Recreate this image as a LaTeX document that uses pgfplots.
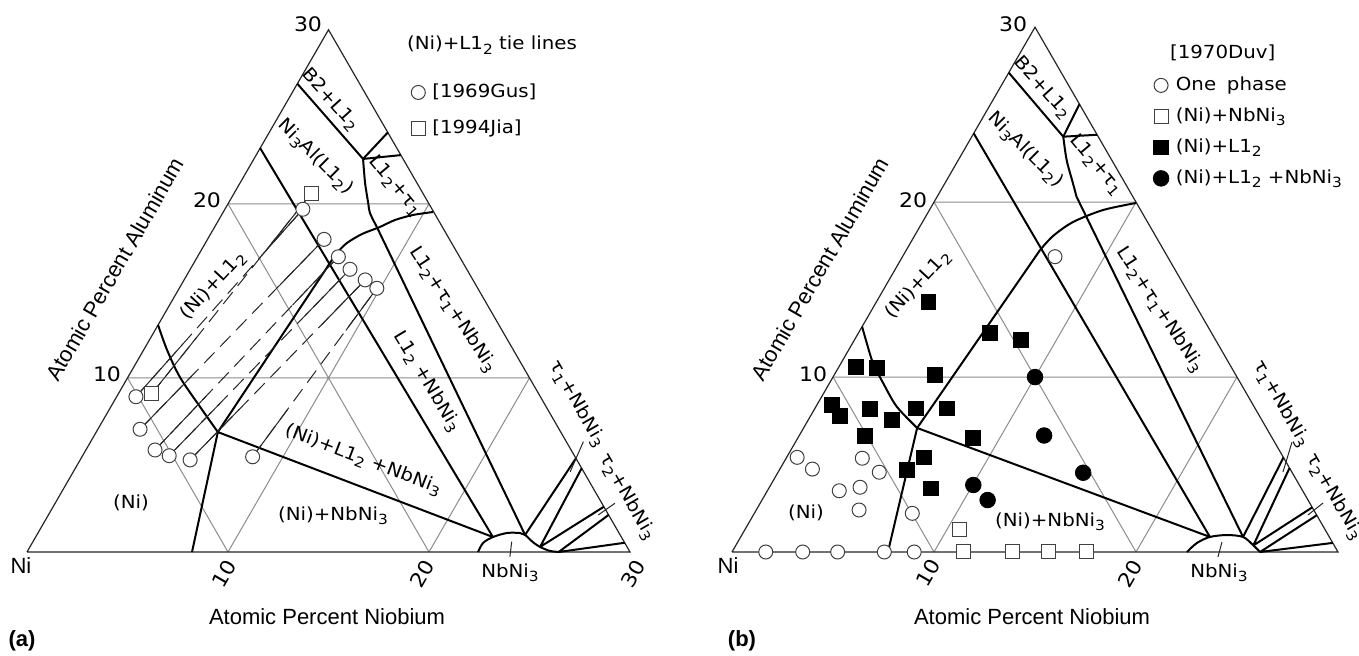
\documentclass[border=0pt]{standalone}
\usepackage{pgfplots}
\pgfplotsset{compat=1.18}
\usepackage{fontspec}
\setmainfont{Liberation Sans}
\newfontfamily\dfont[FakeStretch=1.1]{DejaVu Sans}
\newcommand\sub[1]{\raisebox{-0.45ex}{\fontsize{7}{7}\selectfont #1}}
\newcommand\Lt{L1\sub{2}}
\newcommand\NN{NbNi\sub{3}}
\pgfplotsset{
  tern/.style={hide axis, clip=false, xmin=0, xmax=30, ymin=0, ymax=30, anchor=origin},
  bnd/.style={black, line width=1pt, mark=none, forget plot},
  bnds/.style={bnd, smooth, tension=0.5},
  grd/.style={black!45, line width=0.5pt, mark=none, forget plot, unbounded coords=jump},
  edg/.style={black!85, line width=0.6pt, mark=none, forget plot},
  thn/.style={black!85, line width=0.5pt, mark=none, forget plot, unbounded coords=jump},
  lm/.style={only marks, legend image code/.code={\draw[##1] plot coordinates {(0pt,0pt)};}},
  ocirc/.style={lm, mark=*, mark size=3.5pt, mark options={fill=white, draw=black!75, line width=0.5pt}},
  osq/.style={lm, mark=square*, mark size=3.5pt, mark options={fill=white, draw=black!75, line width=0.5pt}},
  fsq/.style={lm, mark=square*, mark size=3.7pt, mark options={fill=black, draw=black}},
  fcirc/.style={lm, mark=*, mark size=3.9pt, mark options={fill=black, draw=black}},
  leg/.style={legend style={draw=none, fill=none, at={#1}, anchor=north west,
     font=\dfont\fontsize{9}{11}\selectfont, inner sep=0pt, column sep=3.5pt,
     nodes={inner sep=0pt, text height=7pt, text depth=2pt}, cells={anchor=west}},
     legend cell align=left},
}
\begin{document}
\begin{tikzpicture}
\useasboundingbox (0,0) rectangle (679.5pt,-328pt);
% ---------------- (a) ----------------
\begin{axis}[tern, x={(10.05pt,0pt)}, y={(5.025pt,8.7036pt)}, at={(13.5pt,-276pt)},
  leg={(axis cs:5.63,26.94)}, legend style={row sep=9pt}]
\addplot[grd] coordinates {(0,10)(20,10) (nan,nan) (0,20)(10,20) (nan,nan) (10,0)(10,20) (nan,nan) (20,0)(20,10) (nan,nan) (10,0)(0,10) (nan,nan) (20,0)(0,20)};
\addplot[edg] coordinates {(0,0) (30,0) (0,30) (0,0)};
% phase boundaries
\addplot[bnd] coordinates {(0,26.9) (5.43,22.58)};
\addplot[bnd] coordinates {(5.43,22.58) (5.9,24.1)};
\addplot[bnd] coordinates {(5.43,22.58) (7.2,22.8)};
\addplot[bnds] coordinates {(5.43,22.58) (6.22,21.2) (6.95,20.05) (7.32,19.48) (8.07,18.67)};
\addplot[bnd] coordinates {(8.07,18.67) (24.29,0.98)};
\addplot[bnd] coordinates {(0,23.2) (22.75,0.86)};
\addplot[bnds] coordinates {(10.43,19.53) (9.52,19.36) (8.77,19.07) (8.22,18.67) (7.54,18.27) (7.04,17.75) (6.83,17.18) (6.77,16.6)};
\addplot[bnd] coordinates {(6.77,16.6) (6.05,6.89) (8.21,0)};
\addplot[bnds] coordinates {(0,13.04) (1.17,11.6) (2.58,10.05) (4.45,8.33) (6.05,6.89)};
\addplot[bnd] coordinates {(6.05,6.89) (22.75,0.86)};
\addplot[bnds] coordinates {(22.44,0) (22.43,0.52) (22.75,0.86) (23.33,1.09) (23.98,1.09) (24.29,0.98) (24.88,0.57) (25.38,0.29) (25.99,0.06) (26.5,0)};
\addplot[bnd, unbounded coords=jump] coordinates {(24.29,0.98)(24.62,5.38) (nan,nan) (25.38,0.29)(25.19,4.81) (nan,nan) (25.38,0.29)(27.4,2.6) (nan,nan) (26.45,0)(27.87,2.13) (nan,nan) (26.45,0)(29.47,0.53)};
\addplot[thn] coordinates {(24.51,6.34)(24.72,4.61) (nan,nan) (27.85,2.8)(27.36,2.13) (nan,nan) (23.82,0.59)(24.16,-0.27)};
% tie lines
\addplot[thn, dash pattern=on 7.5pt off 4pt] coordinates {(0.96,8.92)(3.88,19.69) (nan,nan) (1.66,9.08)(3.85,20.62) (nan,nan) (2.10,7.05)(5.80,17.96) (nan,nan) (3.44,5.86)(7.01,16.96) (nan,nan) (4.31,5.53)(7.95,16.24) (nan,nan) (5.47,5.29)(9.01,15.63) (nan,nan) (8.49,5.47)(9.83,15.15)};
\addplot[thn] coordinates {(0.96,8.92)(1.78,11.94) (nan,nan) (3.15,17.00)(3.88,19.69) (nan,nan)
 (1.66,9.08)(2.27,12.31) (nan,nan) (3.30,17.74)(3.85,20.62) (nan,nan)
 (2.10,7.05)(3.14,10.10) (nan,nan) (4.88,15.23)(5.80,17.96) (nan,nan)
 (3.44,5.86)(4.44,8.97) (nan,nan) (6.12,14.19)(7.01,16.96) (nan,nan)
 (4.31,5.53)(5.33,8.53) (nan,nan) (7.04,13.56)(7.95,16.24) (nan,nan)
 (5.47,5.29)(6.46,8.19) (nan,nan) (8.13,13.05)(9.01,15.63) (nan,nan)
 (8.49,5.47)(8.87,8.18) (nan,nan) (9.50,12.73)(9.83,15.15)};
\addplot[ocirc] coordinates {(0.96,8.92) (2.10,7.05) (3.44,5.86) (4.31,5.53) (5.47,5.29) (8.49,5.47) (3.88,19.69) (5.80,17.96) (7.01,16.96) (7.95,16.24) (9.01,15.63) (9.83,15.15)};
\addlegendentry{[1969Gus]}
\addplot[osq] coordinates {(1.66,9.08) (3.85,20.62)};
\addlegendentry{[1994Jia]}
\end{axis}
% ---------------- (b) ----------------
\begin{axis}[tern, x={(10.1pt,0pt)}, y={(5.05pt,8.7469pt)}, at={(366pt,-276pt)},
  leg={(axis cs:7.23,27.21)}, legend style={row sep=6.5pt}]
\addplot[grd] coordinates {(0,10)(20,10) (nan,nan) (0,20)(10,20) (nan,nan) (10,0)(10,20) (nan,nan) (20,0)(20,10) (nan,nan) (10,0)(0,10) (nan,nan) (20,0)(0,20)};
\addplot[edg] coordinates {(0,0) (30,0) (0,30) (0,0)};
\addplot[bnd] coordinates {(0,27.4) (4.53,23.74)};
\addplot[bnd] coordinates {(4.53,23.74) (4.4,25.6)};
\addplot[bnd] coordinates {(4.53,23.74) (6.15,23.85)};
\addplot[bnds] coordinates {(4.53,23.74) (5.36,22.41) (6.33,21.09) (6.9,20.31)};
\addplot[bnd] coordinates {(6.9,20.31) (24.87,0.86)};
\addplot[bnd] coordinates {(0,23.93) (23.23,0.86)};
\addplot[bnds] coordinates {(10.03,19.95) (8.6,19.55) (7.45,18.86) (6.86,18.06) (6.62,17.26)};
\addplot[bnd] coordinates {(6.62,17.26) (5.62,7.09) (7.72,0)};
\addplot[bnds] coordinates {(0,12.88) (0.71,11.93) (1.58,10.8) (2.67,9.64) (4.0,8.31) (5.62,7.09)};
\addplot[bnd] coordinates {(5.62,7.09) (23.23,0.86)};
\addplot[bnds] coordinates {(22.52,0) (22.76,0.52) (23.23,0.86) (24.02,0.97) (24.87,0.86) (25.59,0.40) (26.14,0)};
\addplot[bnd, unbounded coords=jump] coordinates {(24.87,0.86)(24.6,5.4) (nan,nan) (25.62,0.37)(25.2,4.8) (nan,nan) (25.62,0.37)(27.45,2.55) (nan,nan) (26.14,0)(27.9,2.1) (nan,nan) (26.14,0)(29.48,0.52)};
\addplot[thn] coordinates {(24.58,6.29)(24.99,4.57) (nan,nan) (27.86,2.80)(27.45,2.11) (nan,nan) (23.97,0.57)(24.2,-0.29)};
% data [1970Duv]
\addplot[ocirc] coordinates {(0.52,5.41) (1.61,4.74) (3.77,5.36) (5.01,4.56) (3.56,3.50) (4.49,3.70) (5.09,2.40) (7.82,2.21) (1.67,0) (3.50,0) (5.23,0) (7.54,0) (9.02,0) (7.55,16.88)};
\addlegendentry{One\hspace{0.6em}phase}
\addplot[osq] coordinates {(10.62,1.26) (11.45,0) (13.90,0) (15.67,0) (17.56,0)};
\addlegendentry{(Ni)+\NN}
\addplot[fsq] coordinates {(2.57,14.31) (6.50,12.54) (8.25,12.12) (0.84,10.59) (1.89,10.54) (4.99,10.12) (0.72,8.43) (1.44,7.77) (2.75,8.16) (4.15,7.57) (4.98,8.21) (6.52,8.21) (3.25,6.63) (8.67,6.50) (6.81,5.41) (6.31,4.69) (8.02,3.64)};
\addlegendentry{(Ni)+\Lt}
\addplot[fcirc] coordinates {(10,10) (12.12,6.66) (15.12,4.53) (10.03,3.83) (11.17,2.97)};
\addlegendentry{(Ni)+\Lt\ +\NN}
\end{axis}
% ---------------- texts ----------------
\begin{scope}[x=0.5pt, y=-0.5pt, every node/.style={font=\dfont\fontsize{9}{10}\selectfont}]
% (a)
\node[rotate=-48] at (330,100) {B2+\Lt};
\node[rotate=-45] at (315,157) {Ni\sub{3}Al(\Lt)};
\node[rotate=-50] at (395,186) {\Lt+τ\sub{1}};
\node[rotate=47] at (213,286) {(Ni)+\Lt};
\node[rotate=-57] at (453,310) {\Lt+τ\sub{1}+\NN};
\node[rotate=-59] at (427,382) {\Lt\ +\NN};
\node[rotate=-60] at (577,404) {τ\sub{1}+\NN};
\node[rotate=-60] at (627,497) {τ\sub{2}+\NN};
\node[rotate=-21] at (363,460) {(Ni)+\Lt\ +\NN};
\node at (333,516) {(Ni)+\NN};
\node at (131,503) {(Ni)};
\node at (510,573) {\NN};
\node[anchor=west] at (400,45) {(Ni)+\Lt\ tie lines};
\node[font=\dfont\fontsize{10}{11}\selectfont] at (308,24) {30};
\node[font=\dfont\fontsize{10}{11}\selectfont] at (207,200) {20};
\node[font=\dfont\fontsize{10}{11}\selectfont] at (107,374) {10};
\node[font=\dfont\fontsize{10}{11}\selectfont, rotate=60] at (224,574) {10};
\node[font=\dfont\fontsize{10}{11}\selectfont, rotate=60] at (422,574) {20};
\node[font=\dfont\fontsize{10}{11}\selectfont, rotate=60] at (633,574) {30};
\node[font=\fontsize{11}{13}\selectfont] at (21,566) {Ni};
\node[font=\fontsize{11}{13}\selectfont, rotate=60] at (115,269) {Atomic Percent Aluminum};
\node[font=\fontsize{11}{13}\selectfont] at (327,617) {Atomic Percent Niobium};
\node[font=\fontsize{11}{13}\selectfont\bfseries] at (22,641) {(a)};
% (b)
\node[rotate=-48] at (1042,88) {B2+\Lt};
\node[rotate=-45] at (1025,150) {Ni\sub{3}Al(\Lt)};
\node[rotate=-50] at (1096,165) {\Lt+τ\sub{1}};
\node[rotate=47] at (918,285) {(Ni)+\Lt};
\node[rotate=-57] at (1160,310) {\Lt+τ\sub{1}+\NN};
\node[rotate=-60] at (1281,404) {τ\sub{1}+\NN};
\node[rotate=-60] at (1334,497) {τ\sub{2}+\NN};
\node at (1050,522) {(Ni)+\NN};
\node at (806,513) {(Ni)};
\node at (1219,573) {\NN};
\node[anchor=west] at (1163,53) {[1970Duv]};
\node[font=\dfont\fontsize{10}{11}\selectfont] at (1013,24) {30};
\node[font=\dfont\fontsize{10}{11}\selectfont] at (913,200) {20};
\node[font=\dfont\fontsize{10}{11}\selectfont] at (813,374) {10};
\node[font=\dfont\fontsize{10}{11}\selectfont, rotate=60] at (928,573) {10};
\node[font=\dfont\fontsize{10}{11}\selectfont, rotate=60] at (1130,574) {20};
\node[font=\fontsize{11}{13}\selectfont] at (728,566) {Ni};
\node[font=\fontsize{11}{13}\selectfont, rotate=60] at (820,269) {Atomic Percent Aluminum};
\node[font=\fontsize{11}{13}\selectfont] at (1032,617) {Atomic Percent Niobium};
\node[font=\fontsize{11}{13}\selectfont\bfseries] at (742,641) {(b)};
\end{scope}
\end{tikzpicture}
\end{document}
